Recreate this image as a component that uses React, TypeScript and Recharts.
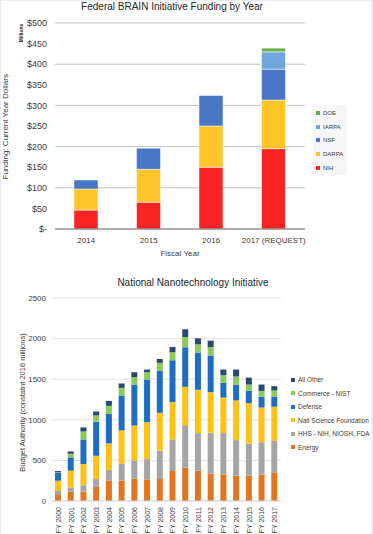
import React from "react";
import { BarChart, Bar, XAxis, YAxis, CartesianGrid, Legend } from "recharts";

// ---------- Top chart data: Federal BRAIN Initiative ----------
const brainYears = ["2014", "2015", "2016", "2017 (REQUEST)"];
const brainNIH = [46, 65, 150, 195];
const brainDARPA = [51, 80, 100, 118];
const brainNSF = [22, 51, 74, 75];
const brainIARPA = [0, 0, 0, 42];
const brainDOE = [0, 0, 0, 9];
const brainTicks = [0, 50, 100, 150, 200, 250, 300, 350, 400, 450, 500];

const brainSeries = [
  { key: "NIH", color: "#FA2424" },
  { key: "DARPA", color: "#FFC62A" },
  { key: "NSF", color: "#4A76C6" },
  { key: "IARPA", color: "#6FA6DB" },
  { key: "DOE", color: "#6BAE4E" },
];

// ---------- Bottom chart data: National Nanotechnology Initiative ----------
const nniYears = [
  "FY 2000", "FY 2001", "FY 2002", "FY 2003", "FY 2004", "FY 2005",
  "FY 2006", "FY 2007", "FY 2008", "FY 2009", "FY 2010", "FY 2011",
  "FY 2012", "FY 2013", "FY 2014", "FY 2015", "FY 2016", "FY 2017",
];
const nniEnergy = [74, 115, 115, 172, 254, 250, 275, 266, 270, 369, 410, 373, 336, 328, 311, 311, 324, 352];
const nniHHS = [49, 49, 78, 98, 127, 213, 225, 250, 349, 389, 524, 463, 504, 508, 439, 394, 401, 394];
const nniNSF = [127, 209, 262, 287, 328, 406, 430, 455, 467, 459, 472, 533, 500, 438, 488, 500, 427, 414];
const nniDefense = [98, 164, 303, 418, 365, 430, 500, 525, 516, 516, 487, 459, 451, 181, 196, 151, 131, 127];
const nniCommerce = [6, 45, 98, 78, 98, 94, 94, 90, 99, 99, 127, 102, 106, 94, 99, 78, 73, 74];
const nniOther = [15, 29, 50, 49, 61, 54, 62, 33, 49, 65, 95, 74, 78, 70, 86, 86, 78, 53];
const nniTicks = [0, 500, 1000, 1500, 2000, 2500];

const nniSeries = [
  { key: "Energy", color: "#E2751F" },
  { key: "HHS - NIH, NIOSH, FDA", color: "#A5A5A5" },
  { key: "Natl Science Foundation", color: "#FFC214" },
  { key: "Defense", color: "#1D6EC0" },
  { key: "Commerce - NIST", color: "#8ACB5B" },
  { key: "All Other", color: "#2B4870" },
];

const brainData = brainYears.map((y, i) => ({
  year: y,
  NIH: brainNIH[i],
  DARPA: brainDARPA[i],
  NSF: brainNSF[i],
  IARPA: brainIARPA[i],
  DOE: brainDOE[i],
}));

const nniData = nniYears.map((y, i) => ({
  year: y,
  "Energy": nniEnergy[i],
  "HHS - NIH, NIOSH, FDA": nniHHS[i],
  "Natl Science Foundation": nniNSF[i],
  "Defense": nniDefense[i],
  "Commerce - NIST": nniCommerce[i],
  "All Other": nniOther[i],
}));

const FONT = "'Liberation Sans', Arial, sans-serif";

const BrainLegend = () => (
  <div
    style={{
      background: "#f6f6f8",
      width: 34,
      height: 70,
      paddingTop: 1,
      boxSizing: "border-box",
      fontFamily: FONT,
      fontSize: 6,
      color: "#404040",
    }}
  >
    {[...brainSeries].reverse().map((s) => (
      <div key={s.key} style={{ display: "flex", alignItems: "center", height: 13.75 }}>
        <div style={{ width: 4, height: 4, background: s.color, marginLeft: 3, marginRight: 3 }} />
        <span>{s.key}</span>
      </div>
    ))}
  </div>
);

const NniLegend = () => (
  <div style={{ width: 80, fontFamily: FONT, fontSize: 6.5, color: "#404040" }}>
    {[...nniSeries].reverse().map((s) => (
      <div key={s.key} style={{ display: "flex", alignItems: "center", height: 13.5 }}>
        <div style={{ width: 4, height: 4, background: s.color, marginRight: 3 }} />
        <span style={{ whiteSpace: "nowrap" }}>{s.key}</span>
      </div>
    ))}
  </div>
);

const NniTick = (props: any) => {
  const { x, y, payload } = props;
  return (
    <text
      x={x}
      y={y}
      transform={`rotate(-90, ${x}, ${y})`}
      textAnchor="end"
      dy="0.35em"
      fontSize={7}
      fill="#404040"
      fontFamily={FONT}
    >
      {payload.value}
    </text>
  );
};

const abs = (style: React.CSSProperties): React.CSSProperties => ({
  position: "absolute",
  fontFamily: FONT,
  whiteSpace: "nowrap",
  ...style,
});

const rotLabel = (text: string, cx: number, cy: number, w: number, fs: number, color: string, bold = false) => (
  <div
    style={abs({
      left: cx - w / 2,
      top: cy - fs * 0.6,
      width: w,
      height: fs * 1.2,
      lineHeight: `${fs * 1.2}px`,
      textAlign: "center",
      fontSize: fs,
      color,
      fontWeight: bold ? "bold" : "normal",
      transform: "rotate(-90deg)",
    })}
  >
    {text}
  </div>
);

export default function App() {
  return (
    <div
      style={{
        position: "absolute",
        left: 0,
        top: 0,
        width: 373,
        height: 534,
        background: "#e9ecf5",
        overflow: "hidden",
      }}
    >
      <div style={{ position: "absolute", left: 1, top: 1, width: 370, height: 533, background: "#ffffff" }} />

      {/* ---------- Top chart ---------- */}
      <div style={{ position: "absolute", left: 0, top: 0 }}>
        <BarChart
          width={373}
          height={270}
          data={brainData}
          margin={{ top: 23, right: 68, left: 0, bottom: 11 }}
          barSize={24}
        >
          <CartesianGrid vertical={false} stroke="#c4c4c4" />
          <XAxis
            dataKey="year"
            axisLine={{ stroke: "#7a7a7a" }}
            tickLine={false}
            height={30}
            tick={{ fontSize: 8, fill: "#404040", fontFamily: FONT }}
            interval={0}
          />
          <YAxis
            width={55}
            domain={[0, 500]}
            ticks={brainTicks}
            axisLine={false}
            tickLine={false}
            tickFormatter={(v: number) => (v === 0 ? "$-" : `$${v}`)}
            tick={{ fontSize: 9, fill: "#404040", fontFamily: FONT }}
          />
          <Legend
            layout="vertical"
            align="center"
            verticalAlign="middle"
            content={() => <BrainLegend />}
            wrapperStyle={{ position: "absolute", left: 313, top: 105, width: 34, height: 70 }}
          />
          {brainSeries.map((s) => (
            <Bar
              key={s.key}
              dataKey={s.key}
              stackId="a"
              fill={s.color}
              stroke="#ffffff"
              strokeWidth={0.5}
              isAnimationActive={false}
            />
          ))}
        </BarChart>
      </div>
      <div style={abs({ left: 72, top: 0, width: 200, textAlign: "center", fontSize: 10, lineHeight: "14px", color: "#262626" })}>
        Federal BRAIN Initiative Funding by Year
      </div>
      {rotLabel("Funding: Current Year Dollars", 6, 127, 140, 8, "#404040")}
      {rotLabel("Millions", 21, 33, 30, 5, "#262626", true)}
      <div style={abs({ left: 140, top: 248, width: 80, textAlign: "center", fontSize: 8, lineHeight: "12px", color: "#404040" })}>
        Fiscal Year
      </div>

      {/* ---------- Bottom chart ---------- */}
      <div style={{ position: "absolute", left: 0, top: 270 }}>
        <BarChart
          width={373}
          height={264}
          data={nniData}
          margin={{ top: 28, right: 92, left: 0, bottom: 0 }}
          barSize={6}
        >
          <CartesianGrid vertical={false} stroke="#e3e3e3" />
          <XAxis
            dataKey="year"
            axisLine={{ stroke: "#d9d9d9" }}
            tickLine={false}
            tickMargin={0}
            height={33}
            interval={0}
            tick={<NniTick />}
          />
          <YAxis
            width={52}
            domain={[0, 2500]}
            ticks={nniTicks}
            axisLine={false}
            tickLine={false}
            tickMargin={0}
            tick={{ fontSize: 8, fill: "#404040", fontFamily: FONT }}
          />
          <Legend
            layout="vertical"
            align="center"
            verticalAlign="middle"
            content={() => <NniLegend />}
            wrapperStyle={{ position: "absolute", left: 291, top: 103, width: 80 }}
          />
          {nniSeries.map((s) => (
            <Bar key={s.key} dataKey={s.key} stackId="b" fill={s.color} isAnimationActive={false} />
          ))}
        </BarChart>
      </div>
      <div style={abs({ left: 93, top: 276, width: 200, textAlign: "center", fontSize: 10, lineHeight: "14px", color: "#262626" })}>
        National Nanotechnology Initiative
      </div>
      {rotLabel("Budget Authority (constatnt 2016 millions)", 22, 402, 180, 7.5, "#404040")}
    </div>
  );
}
